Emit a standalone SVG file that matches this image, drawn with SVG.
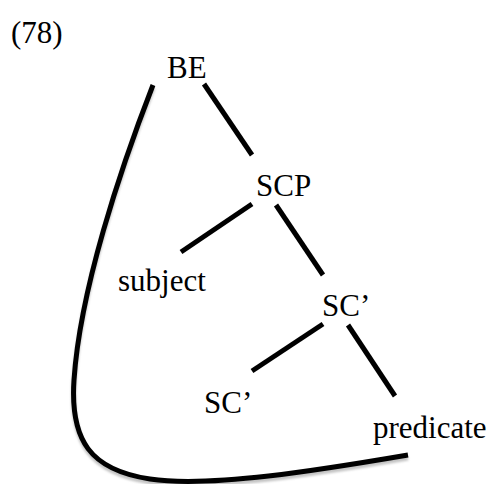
<svg xmlns="http://www.w3.org/2000/svg" width="492" height="484" viewBox="0 0 492 484">
<defs>
<style>
text{font-family:"Liberation Serif","Times New Roman",serif;font-size:31px;fill:#000}
.edge{stroke:#000;stroke-width:5;fill:none;stroke-linecap:butt}
.shadow{stroke:#c4c4c4;stroke-width:5;fill:none}
</style>
<filter id="soft" x="-10%" y="-10%" width="120%" height="120%"><feGaussianBlur stdDeviation="0.8"/></filter>
</defs>
<rect width="492" height="484" fill="#fff"/>
<text id="label78" x="11" y="43">(78)</text>
<g id="connectors">
<path class="shadow" filter="url(#soft)" transform="translate(0,3)" d="M153,85 C120,170 80,290 74,380 C70,440 90,470 150,479 C210,488 320,470 408,455"/>
<path class="edge" d="M153,85 C120,170 80,290 74,380 C70,440 90,470 150,479 C210,488 320,470 408,455"/>
<line class="edge" x1="204" y1="84" x2="252" y2="155"/>
<line class="edge" x1="252" y1="204" x2="181" y2="252"/>
<line class="edge" x1="276" y1="205" x2="323" y2="275"/>
<line class="edge" x1="323" y1="324" x2="252" y2="371"/>
<line class="edge" x1="348" y1="325" x2="395" y2="396"/>
</g>
<g id="node-BE"><text x="167" y="78">BE</text></g>
<g id="node-SCP"><text x="256" y="196">SCP</text></g>
<g id="node-subject"><text x="118" y="291">subject</text></g>
<g id="node-SC1"><text x="322" y="316">SC’</text></g>
<g id="node-SC2"><text x="204" y="413">SC’</text></g>
<g id="node-predicate"><text x="373" y="438">predicate</text></g>
</svg>
